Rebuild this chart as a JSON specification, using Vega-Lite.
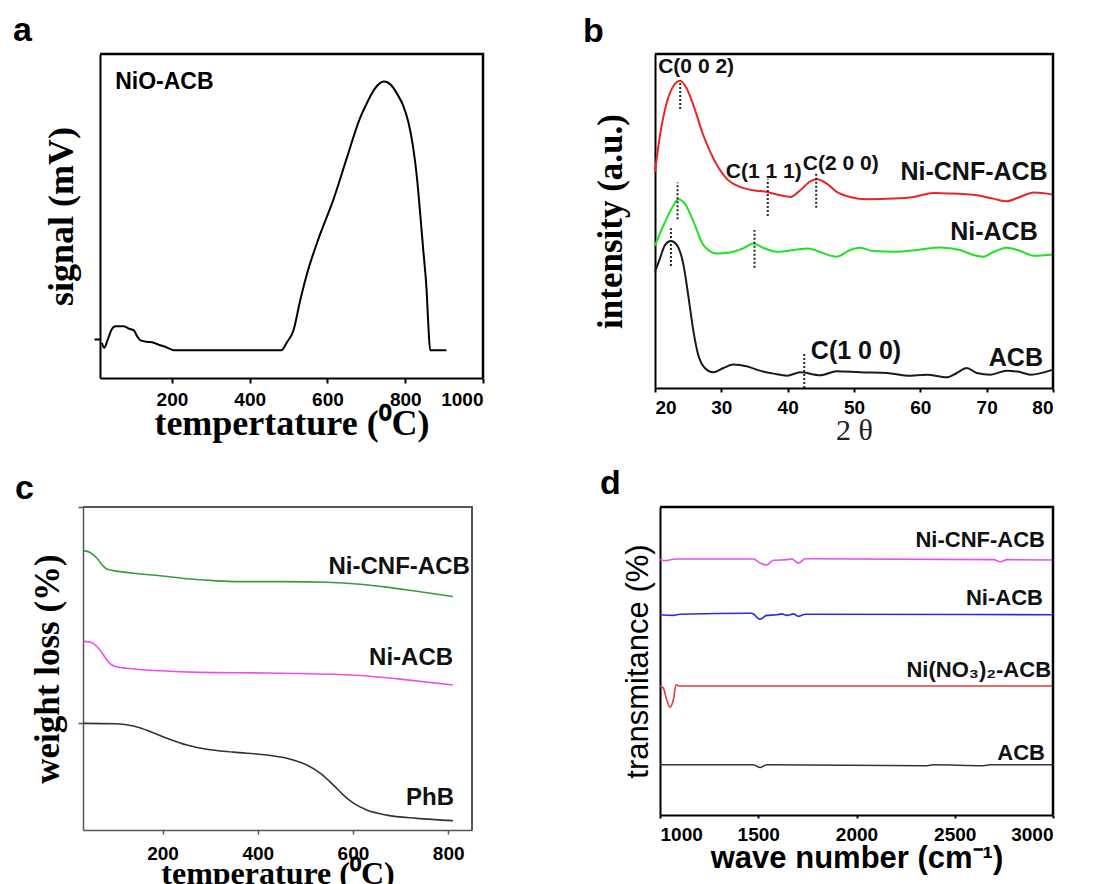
{
  "$schema": "https://vega.github.io/schema/vega-lite/v6.json",
  "padding": {"left": 13, "top": 14, "right": 5, "bottom": 2},
  "background": "white",
  "config": {
    "font": "Liberation Sans",
    "view": {"stroke": null},
    "axis": {"grid": false, "labelFont": "Liberation Sans", "labelFontWeight": "bold", "labelFontSize": 19, "labelColor": "black", "domainColor": "black", "domainWidth": 2, "tickColor": "black", "tickWidth": 2, "titleColor": "black", "format": "d"}
  },
  "datasets": {
    "tpr": [{"x":20,"y":10.9},{"x":26,"y":9.3},{"x":34,"y":11.5},{"x":45,"y":15},{"x":55,"y":16},{"x":76,"y":16},{"x":90,"y":15.2},{"x":102,"y":14.7},{"x":110,"y":13},{"x":119,"y":11.6},{"x":135,"y":11.2},{"x":153,"y":10.9},{"x":165,"y":10.3},{"x":179,"y":9.8},{"x":195,"y":9.0},{"x":205,"y":8.6},{"x":482,"y":8.6},{"x":495,"y":10.9},{"x":512,"y":14.5},{"x":530,"y":24},{"x":547,"y":32},{"x":580,"y":44},{"x":615,"y":55},{"x":650,"y":68},{"x":683,"y":80},{"x":700,"y":84.5},{"x":720,"y":89},{"x":735,"y":91},{"x":745,"y":91.5},{"x":755,"y":91.2},{"x":769,"y":89.6},{"x":780,"y":87.5},{"x":795,"y":84},{"x":808,"y":79},{"x":820,"y":71.5},{"x":830,"y":62},{"x":837,"y":52.8},{"x":846,"y":40},{"x":855,"y":27},{"x":860,"y":15},{"x":864,"y":8.6},{"x":906,"y":8.6}],
    "tprFrame": [{"i":0,"x":15,"y":100},{"i":1,"x":1000,"y":100},{"i":2,"x":1000,"y":0}],
    "xrd": [
      {"s":"Ni-CNF-ACB","x":20,"y":64.7},{"s":"Ni-CNF-ACB","x":20.75,"y":75.6},{"s":"Ni-CNF-ACB","x":21.8,"y":85.6},{"s":"Ni-CNF-ACB","x":22.8,"y":90.5},{"s":"Ni-CNF-ACB","x":23.8,"y":92},{"s":"Ni-CNF-ACB","x":24.8,"y":89.6},{"s":"Ni-CNF-ACB","x":25.8,"y":84.6},{"s":"Ni-CNF-ACB","x":27.3,"y":75.6},{"s":"Ni-CNF-ACB","x":28.8,"y":68.7},{"s":"Ni-CNF-ACB","x":30.8,"y":62.7},{"s":"Ni-CNF-ACB","x":32.8,"y":60.2},{"s":"Ni-CNF-ACB","x":34.8,"y":59.2},{"s":"Ni-CNF-ACB","x":36.9,"y":58.7},{"s":"Ni-CNF-ACB","x":38.9,"y":57.7},{"s":"Ni-CNF-ACB","x":40.4,"y":57.2},{"s":"Ni-CNF-ACB","x":41.9,"y":59.2},{"s":"Ni-CNF-ACB","x":43.4,"y":61.9},{"s":"Ni-CNF-ACB","x":44.4,"y":62.5},{"s":"Ni-CNF-ACB","x":45.9,"y":61.2},{"s":"Ni-CNF-ACB","x":47.4,"y":58.7},{"s":"Ni-CNF-ACB","x":49.4,"y":57.2},{"s":"Ni-CNF-ACB","x":51.9,"y":56.5},{"s":"Ni-CNF-ACB","x":56,"y":56.7},{"s":"Ni-CNF-ACB","x":59,"y":57.2},{"s":"Ni-CNF-ACB","x":62,"y":58.4},{"s":"Ni-CNF-ACB","x":65,"y":58.2},{"s":"Ni-CNF-ACB","x":68.5,"y":57.7},{"s":"Ni-CNF-ACB","x":71,"y":56.7},{"s":"Ni-CNF-ACB","x":73,"y":55.9},{"s":"Ni-CNF-ACB","x":75,"y":57.2},{"s":"Ni-CNF-ACB","x":77.1,"y":58.5},{"s":"Ni-CNF-ACB","x":80,"y":57.9},
      {"s":"Ni-ACB","x":20,"y":42.6},{"s":"Ni-ACB","x":21.3,"y":48.8},{"s":"Ni-ACB","x":22.5,"y":53.7},{"s":"Ni-ACB","x":23.5,"y":56.5},{"s":"Ni-ACB","x":24.5,"y":55.2},{"s":"Ni-ACB","x":25.8,"y":49.8},{"s":"Ni-ACB","x":27.3,"y":42.8},{"s":"Ni-ACB","x":29.3,"y":40.3},{"s":"Ni-ACB","x":31.3,"y":40.6},{"s":"Ni-ACB","x":33.3,"y":41.8},{"s":"Ni-ACB","x":34.8,"y":43.3},{"s":"Ni-ACB","x":36.3,"y":42},{"s":"Ni-ACB","x":38.4,"y":40.8},{"s":"Ni-ACB","x":40.9,"y":41.3},{"s":"Ni-ACB","x":43.1,"y":41.8},{"s":"Ni-ACB","x":45.4,"y":40.3},{"s":"Ni-ACB","x":47.4,"y":39.3},{"s":"Ni-ACB","x":49.4,"y":41.3},{"s":"Ni-ACB","x":50.9,"y":42},{"s":"Ni-ACB","x":52.9,"y":41},{"s":"Ni-ACB","x":56,"y":40.8},{"s":"Ni-ACB","x":59.5,"y":41.3},{"s":"Ni-ACB","x":63,"y":42.1},{"s":"Ni-ACB","x":66,"y":41.3},{"s":"Ni-ACB","x":68,"y":39.8},{"s":"Ni-ACB","x":69.5,"y":39.3},{"s":"Ni-ACB","x":71.1,"y":40.8},{"s":"Ni-ACB","x":73,"y":42},{"s":"Ni-ACB","x":75.1,"y":41},{"s":"Ni-ACB","x":77.1,"y":39.6},{"s":"Ni-ACB","x":80,"y":40},
      {"s":"ACB","x":20,"y":34.8},{"s":"ACB","x":20.75,"y":38.8},{"s":"ACB","x":21.5,"y":42.8},{"s":"ACB","x":22.4,"y":44},{"s":"ACB","x":23.3,"y":42.8},{"s":"ACB","x":24.3,"y":36.8},{"s":"ACB","x":25,"y":27.9},{"s":"ACB","x":25.8,"y":16.9},{"s":"ACB","x":26.5,"y":10},{"s":"ACB","x":27.5,"y":6},{"s":"ACB","x":28.8,"y":4.7},{"s":"ACB","x":30.3,"y":6},{"s":"ACB","x":31.8,"y":7},{"s":"ACB","x":33.8,"y":6.5},{"s":"ACB","x":35.8,"y":5.2},{"s":"ACB","x":37.9,"y":4.3},{"s":"ACB","x":39.9,"y":3.7},{"s":"ACB","x":41.9,"y":4.7},{"s":"ACB","x":44.9,"y":3.8},{"s":"ACB","x":47.4,"y":5},{"s":"ACB","x":50.9,"y":4.7},{"s":"ACB","x":55,"y":4.5},{"s":"ACB","x":58,"y":3.7},{"s":"ACB","x":61,"y":4},{"s":"ACB","x":64,"y":3.2},{"s":"ACB","x":65.5,"y":4.5},{"s":"ACB","x":67,"y":6},{"s":"ACB","x":68.5,"y":4.5},{"s":"ACB","x":70.6,"y":4},{"s":"ACB","x":73,"y":5.2},{"s":"ACB","x":75,"y":4.8},{"s":"ACB","x":76.6,"y":4},{"s":"ACB","x":80,"y":5.5}
    ],
    "xrdFrame": [{"i":0,"x":20,"y":100},{"i":1,"x":80,"y":100},{"i":2,"x":80,"y":0}],
    "xrdMarks": [{"x":23.8,"y":83.5,"y2":92},{"x":23.4,"y":50.5,"y2":61.5},{"x":22.4,"y":36.5,"y2":47.8},{"x":37,"y":51.5,"y2":62.5},{"x":44.3,"y":54,"y2":64.5},{"x":35,"y":36,"y2":47.3},{"x":42.5,"y":0,"y2":10.5}],
    "xrdSmall": [{"x":26.2,"y":96.1,"label":"C(0 0 2)"},{"x":36.4,"y":64.8,"label":"C(1 1 1)"},{"x":48.0,"y":67.2,"label":"C(2 0 0)"}],
    "xrdBig": [{"x":68.1,"y":64.8,"label":"Ni-CNF-ACB"},{"x":71.1,"y":46.6,"label":"Ni-ACB"},{"x":50.3,"y":11.0,"label":"C(1 0 0)"},{"x":74.4,"y":9.0,"label":"ACB"}],
    "tga": [
      {"s":"Ni-CNF-ACB","x":34,"y":86.5},{"s":"Ni-CNF-ACB","x":48,"y":85.9},{"s":"Ni-CNF-ACB","x":62,"y":84.2},{"s":"Ni-CNF-ACB","x":73,"y":82.1},{"s":"Ni-CNF-ACB","x":83,"y":80.8},{"s":"Ni-CNF-ACB","x":97,"y":80.3},{"s":"Ni-CNF-ACB","x":139,"y":79.5},{"s":"Ni-CNF-ACB","x":195,"y":78.7},{"s":"Ni-CNF-ACB","x":251,"y":77.8},{"s":"Ni-CNF-ACB","x":307,"y":77.2},{"s":"Ni-CNF-ACB","x":363,"y":76.9},{"s":"Ni-CNF-ACB","x":454,"y":76.9},{"s":"Ni-CNF-ACB","x":545,"y":76.7},{"s":"Ni-CNF-ACB","x":615,"y":76.1},{"s":"Ni-CNF-ACB","x":671,"y":75.2},{"s":"Ni-CNF-ACB","x":734,"y":73.9},{"s":"Ni-CNF-ACB","x":810,"y":72.3},
      {"s":"Ni-ACB","x":34,"y":58.4},{"s":"Ni-ACB","x":48,"y":58.2},{"s":"Ni-ACB","x":62,"y":56.8},{"s":"Ni-ACB","x":76,"y":54.2},{"s":"Ni-ACB","x":87,"y":51.9},{"s":"Ni-ACB","x":101,"y":50.6},{"s":"Ni-ACB","x":125,"y":50.1},{"s":"Ni-ACB","x":195,"y":49.3},{"s":"Ni-ACB","x":279,"y":48.8},{"s":"Ni-ACB","x":419,"y":48.6},{"s":"Ni-ACB","x":559,"y":48.2},{"s":"Ni-ACB","x":629,"y":47.7},{"s":"Ni-ACB","x":699,"y":46.7},{"s":"Ni-ACB","x":810,"y":44.9},
      {"s":"PhB","x":34,"y":33},{"s":"PhB","x":104,"y":32.9},{"s":"PhB","x":139,"y":32.2},{"s":"PhB","x":174,"y":30.5},{"s":"PhB","x":209,"y":28.4},{"s":"PhB","x":251,"y":26.3},{"s":"PhB","x":293,"y":25},{"s":"PhB","x":349,"y":24.1},{"s":"PhB","x":419,"y":23.2},{"s":"PhB","x":461,"y":22.2},{"s":"PhB","x":503,"y":20.1},{"s":"PhB","x":531,"y":17.6},{"s":"PhB","x":559,"y":13.9},{"s":"PhB","x":580,"y":10.8},{"s":"PhB","x":601,"y":8.3},{"s":"PhB","x":629,"y":6.2},{"s":"PhB","x":671,"y":4.6},{"s":"PhB","x":734,"y":3.6},{"s":"PhB","x":810,"y":2.9}
    ],
    "tgaFrame": [{"i":0,"x":33,"y":100},{"i":1,"x":850,"y":100},{"i":2,"x":850,"y":0}],
    "tgaLabels": [{"x":697,"y":81.4,"label":"Ni-CNF-ACB"},{"x":722,"y":53.3,"label":"Ni-ACB"},{"x":762,"y":9.9,"label":"PhB"}],
    "ftir": [
      {"s":"Ni-CNF-ACB","x":1000,"y":82.9},{"s":"Ni-CNF-ACB","x":1034,"y":82.6},{"s":"Ni-CNF-ACB","x":1076,"y":83.1},{"s":"Ni-CNF-ACB","x":1475,"y":83.1},{"s":"Ni-CNF-ACB","x":1509,"y":81.8},{"s":"Ni-CNF-ACB","x":1543,"y":81.2},{"s":"Ni-CNF-ACB","x":1577,"y":82.7},{"s":"Ni-CNF-ACB","x":1645,"y":82.9},{"s":"Ni-CNF-ACB","x":1671,"y":83.1},{"s":"Ni-CNF-ACB","x":1705,"y":81.8},{"s":"Ni-CNF-ACB","x":1739,"y":83.2},{"s":"Ni-CNF-ACB","x":2698,"y":82.9},{"s":"Ni-CNF-ACB","x":2732,"y":82.2},{"s":"Ni-CNF-ACB","x":2766,"y":82.9},{"s":"Ni-CNF-ACB","x":3000,"y":82.8},
      {"s":"Ni-ACB","x":1000,"y":65},{"s":"Ni-ACB","x":1068,"y":64.8},{"s":"Ni-ACB","x":1102,"y":65.2},{"s":"Ni-ACB","x":1467,"y":65.5},{"s":"Ni-ACB","x":1509,"y":63.6},{"s":"Ni-ACB","x":1543,"y":64.8},{"s":"Ni-ACB","x":1594,"y":65},{"s":"Ni-ACB","x":1620,"y":65.3},{"s":"Ni-ACB","x":1645,"y":64.8},{"s":"Ni-ACB","x":1679,"y":65.3},{"s":"Ni-ACB","x":1705,"y":64.5},{"s":"Ni-ACB","x":1739,"y":65.2},{"s":"Ni-ACB","x":3000,"y":65},
      {"s":"Ni(NO3)2-ACB","x":1000,"y":41.9},{"s":"Ni(NO3)2-ACB","x":1017,"y":41.2},{"s":"Ni(NO3)2-ACB","x":1034,"y":37.4},{"s":"Ni(NO3)2-ACB","x":1051,"y":35},{"s":"Ni(NO3)2-ACB","x":1068,"y":37.4},{"s":"Ni(NO3)2-ACB","x":1082,"y":42.3},{"s":"Ni(NO3)2-ACB","x":1098,"y":41.9},{"s":"Ni(NO3)2-ACB","x":3000,"y":41.9},
      {"s":"ACB","x":1000,"y":16.3},{"s":"ACB","x":1475,"y":16.3},{"s":"ACB","x":1509,"y":15.4},{"s":"ACB","x":1543,"y":16.3},{"s":"ACB","x":2358,"y":16},{"s":"ACB","x":2392,"y":16.3},{"s":"ACB","x":2647,"y":16},{"s":"ACB","x":2681,"y":16.3},{"s":"ACB","x":3000,"y":16.3}
    ],
    "ftirFrame": [{"i":0,"x":1000,"y":100},{"i":1,"x":3000,"y":100},{"i":2,"x":3000,"y":0}],
    "ftirLabels": [{"x":2959,"y":89.3,"label":"Ni-CNF-ACB"},{"x":2949,"y":70.5,"label":"Ni-ACB"},{"x":2990,"y":47,"label":"Ni(NO₃)₂-ACB"},{"x":2959,"y":20.1,"label":"ACB"}]
  },
  "concat": [
    {
      "concat": [
        {"width": 17, "height": 10, "data": {"values": []}, "mark": "point"},
        {
          "width": 383, "height": 324,
          "title": {"text": "a", "anchor": "start", "frame": "group", "dx": -87, "offset": 1, "fontSize": 34, "fontWeight": "bold", "font": "Liberation Sans", "color": "black"},
          "layer": [
            {
              "data": {"name": "tpr"},
              "mark": {"type": "line", "color": "black", "strokeWidth": 2, "interpolate": "monotone"},
              "encoding": {
                "x": {"field": "x", "type": "quantitative", "scale": {"domain": [15, 1000], "nice": false, "zero": false},
                  "axis": {"values": [200, 400, 600, 800, 1000], "title": "tempertature (⁰C)", "titleFont": "Liberation Serif", "titleFontSize": 36, "titleFontWeight": "bold", "tickSize": 5, "labelPadding": 7, "titlePadding": -3}},
                "y": {"field": "y", "type": "quantitative", "scale": {"domain": [0, 100], "nice": false},
                  "axis": {"values": [12], "labels": false, "tickSize": 6, "title": "signal (mV)", "titleFont": "Liberation Serif", "titleFontSize": 36, "titleFontWeight": "bold", "titlePadding": 13}}
              }
            },
            {
              "data": {"values": [{"x": 54, "y": 91.3, "label": "NiO-ACB"}]},
              "mark": {"type": "text", "align": "left", "baseline": "middle", "fontSize": 23, "fontWeight": "bold", "font": "Liberation Sans", "color": "black"},
              "encoding": {"x": {"field": "x", "type": "quantitative"}, "y": {"field": "y", "type": "quantitative"}, "text": {"field": "label"}}
            },
            {
              "data": {"name": "tprFrame"},
              "mark": {"type": "line", "color": "black", "strokeWidth": 2.5, "strokeJoin": "miter", "interpolate": "linear"},
              "encoding": {"x": {"field": "x", "type": "quantitative"}, "y": {"field": "y", "type": "quantitative"}, "order": {"field": "i", "type": "quantitative"}}
            }
          ]
        },
        {"width": 172, "height": 10, "data": {"values": []}, "mark": "point"},
        {
          "width": 398, "height": 334,
          "title": {"text": "b", "anchor": "start", "frame": "group", "dx": -72, "offset": 0, "fontSize": 34, "fontWeight": "bold", "font": "Liberation Sans", "color": "black"},
          "layer": [
            {
              "data": {"name": "xrd"},
              "mark": {"type": "line", "strokeWidth": 2, "interpolate": "monotone"},
              "encoding": {
                "x": {"field": "x", "type": "quantitative", "scale": {"domain": [20, 80], "nice": false, "zero": false},
                  "axis": {"values": [20, 30, 40, 50, 60, 70, 80], "title": "2 θ", "titleFont": "Liberation Serif", "titleFontSize": 30, "titleFontWeight": "normal", "titleColor": "#222", "tickSize": 4, "labelPadding": 6, "titlePadding": -2}},
                "y": {"field": "y", "type": "quantitative", "scale": {"domain": [0, 100], "nice": false},
                  "axis": {"ticks": false, "labels": false, "title": "intensity (a.u.)", "titleFont": "Liberation Serif", "titleFontSize": 35, "titleFontWeight": "bold", "titlePadding": 27}},
                "color": {"field": "s", "type": "nominal", "scale": {"domain": ["Ni-CNF-ACB", "Ni-ACB", "ACB"], "range": ["#e8252a", "#22e022", "#1a1a1a"]}, "legend": null}
              }
            },
            {
              "data": {"name": "xrdMarks"},
              "mark": {"type": "rule", "strokeDash": [2, 2], "strokeWidth": 2, "color": "#222"},
              "encoding": {"x": {"field": "x", "type": "quantitative"}, "y": {"field": "y", "type": "quantitative"}, "y2": {"field": "y2"}}
            },
            {
              "data": {"name": "xrdSmall"},
              "mark": {"type": "text", "baseline": "middle", "fontSize": 21, "fontWeight": "bold", "font": "Liberation Sans", "color": "#111"},
              "encoding": {"x": {"field": "x", "type": "quantitative"}, "y": {"field": "y", "type": "quantitative"}, "text": {"field": "label"}}
            },
            {
              "data": {"name": "xrdBig"},
              "mark": {"type": "text", "baseline": "middle", "fontSize": 25, "fontWeight": "bold", "font": "Liberation Sans", "color": "#111"},
              "encoding": {"x": {"field": "x", "type": "quantitative"}, "y": {"field": "y", "type": "quantitative"}, "text": {"field": "label"}}
            },
            {
              "data": {"name": "xrdFrame"},
              "mark": {"type": "line", "color": "black", "strokeWidth": 2.5, "strokeJoin": "miter", "interpolate": "linear"},
              "encoding": {"x": {"field": "x", "type": "quantitative"}, "y": {"field": "y", "type": "quantitative"}, "order": {"field": "i", "type": "quantitative"}}
            }
          ]
        }
      ],
      "columns": 4, "align": "none", "spacing": 0, "bounds": "flush",
      "resolve": {"scale": {"color": "independent"}}
    },
    {
      "concat": [
        {
          "width": 389, "height": 323,
          "title": {"text": "c", "anchor": "start", "frame": "group", "dx": -68, "offset": -3, "fontSize": 34, "fontWeight": "bold", "font": "Liberation Sans", "color": "black"},
          "layer": [
            {
              "data": {"name": "tga"},
              "mark": {"type": "line", "strokeWidth": 1.6, "interpolate": "monotone"},
              "encoding": {
                "x": {"field": "x", "type": "quantitative", "scale": {"domain": [33, 850], "nice": false, "zero": false},
                  "axis": {"values": [200, 400, 600, 800], "title": "temperature (⁰C)", "titleFont": "Liberation Serif", "titleFontSize": 32, "titleFontWeight": "bold", "domainColor": "#555", "domainWidth": 1.5, "tickColor": "#555", "tickWidth": 1.5, "tickSize": 4, "labelPadding": 10, "titlePadding": -5}},
                "y": {"field": "y", "type": "quantitative", "scale": {"domain": [0, 100], "nice": false},
                  "axis": {"values": [33, 100], "labels": false, "tickSize": 5, "domainColor": "#555", "domainWidth": 1.5, "tickColor": "#555", "tickWidth": 1.5, "title": "weight loss (%)", "titleFont": "Liberation Serif", "titleFontSize": 35, "titleFontWeight": "bold", "titlePadding": 12}},
                "color": {"field": "s", "type": "nominal", "scale": {"domain": ["Ni-CNF-ACB", "Ni-ACB", "PhB"], "range": ["#3d9a3d", "#ee4cee", "#333333"]}, "legend": null}
              }
            },
            {
              "data": {"name": "tgaLabels"},
              "mark": {"type": "text", "baseline": "middle", "fontSize": 24, "fontWeight": "bold", "font": "Liberation Sans", "color": "#111"},
              "encoding": {"x": {"field": "x", "type": "quantitative"}, "y": {"field": "y", "type": "quantitative"}, "text": {"field": "label"}}
            },
            {
              "data": {"name": "tgaFrame"},
              "mark": {"type": "line", "color": "#555555", "strokeWidth": 2, "strokeJoin": "miter", "interpolate": "linear"},
              "encoding": {"x": {"field": "x", "type": "quantitative"}, "y": {"field": "y", "type": "quantitative"}, "order": {"field": "i", "type": "quantitative"}}
            }
          ]
        },
        {"width": 188, "height": 10, "data": {"values": []}, "mark": "point"},
        {
          "width": 393, "height": 308,
          "title": {"text": "d", "anchor": "start", "frame": "group", "dx": -60, "offset": 1, "fontSize": 34, "fontWeight": "bold", "font": "Liberation Sans", "color": "black"},
          "layer": [
            {
              "data": {"name": "ftir"},
              "mark": {"type": "line", "strokeWidth": 1.6, "interpolate": "monotone"},
              "encoding": {
                "x": {"field": "x", "type": "quantitative", "scale": {"domain": [1000, 3000], "nice": false, "zero": false},
                  "axis": {"values": [1000, 1500, 2000, 2500, 3000], "title": "wave number (cm⁻¹)", "titleFont": "Liberation Sans", "titleFontSize": 31, "titleFontWeight": "bold", "tickSize": 3, "labelPadding": 7, "titlePadding": -1}},
                "y": {"field": "y", "type": "quantitative", "scale": {"domain": [0, 100], "nice": false},
                  "axis": {"ticks": false, "labels": false, "title": "transmitance (%)", "titleFont": "Liberation Sans", "titleFontSize": 31, "titleFontWeight": "normal", "titlePadding": 6}},
                "color": {"field": "s", "type": "nominal", "scale": {"domain": ["Ni-CNF-ACB", "Ni-ACB", "Ni(NO3)2-ACB", "ACB"], "range": ["#e455e4", "#2b2bdd", "#e33b3b", "#333333"]}, "legend": null}
              }
            },
            {
              "data": {"name": "ftirLabels"},
              "mark": {"type": "text", "align": "right", "baseline": "middle", "fontSize": 22, "fontWeight": "bold", "font": "Liberation Sans", "color": "#111"},
              "encoding": {"x": {"field": "x", "type": "quantitative"}, "y": {"field": "y", "type": "quantitative"}, "text": {"field": "label"}}
            },
            {
              "data": {"name": "ftirFrame"},
              "mark": {"type": "line", "color": "black", "strokeWidth": 2.5, "strokeJoin": "miter", "interpolate": "linear"},
              "encoding": {"x": {"field": "x", "type": "quantitative"}, "y": {"field": "y", "type": "quantitative"}, "order": {"field": "i", "type": "quantitative"}}
            }
          ]
        }
      ],
      "columns": 3, "align": "none", "spacing": 0, "bounds": "flush",
      "resolve": {"scale": {"color": "independent"}}
    }
  ],
  "columns": 1, "align": "each", "spacing": 22,
  "resolve": {"scale": {"color": "independent"}}
}
